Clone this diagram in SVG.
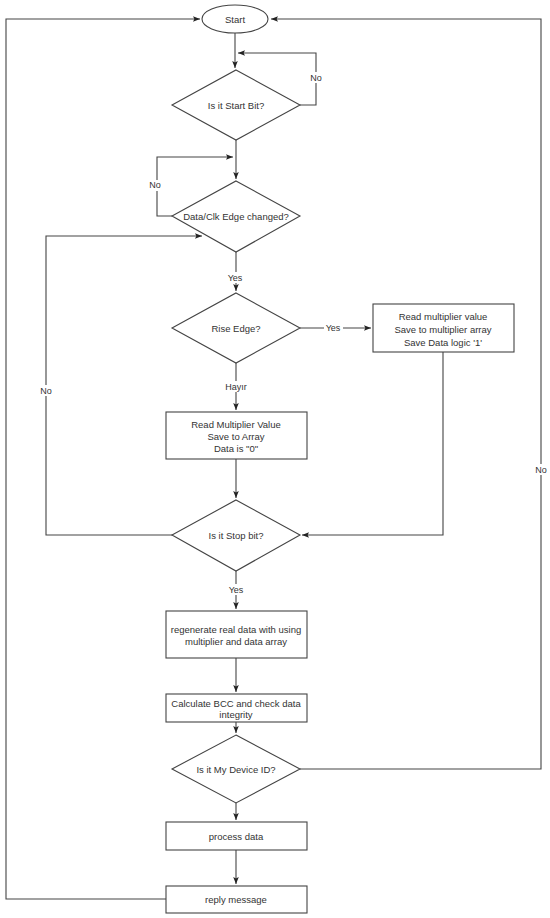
<svg xmlns="http://www.w3.org/2000/svg" width="550" height="918" viewBox="0 0 550 918">
<defs>
<marker id="arr" viewBox="0 0 10 10" refX="10" refY="5" markerWidth="7" markerHeight="7" orient="auto" markerUnits="userSpaceOnUse">
<path d="M0,1 L10,5 L0,9 L2,5 Z" fill="#222"/>
</marker>
</defs>
<style>
.shape{fill:#fff;stroke:#444;stroke-width:1.1}
.edge{fill:none;stroke:#444;stroke-width:1.1}
text{font-family:"Liberation Sans",Arial,sans-serif;font-size:9.5px;fill:#333;text-anchor:middle;dominant-baseline:central}
.lbl{font-size:9px}
.lblbg{fill:#fff}
</style>
<rect width="550" height="918" fill="#fff"/>
<g id="connectors">
<path class="edge" d="M235,33 V68" marker-end="url(#arr)"/>
<path class="edge" d="M300,105 H316 V53 H238" marker-end="url(#arr)"/>
<path class="edge" d="M236,140 V179" marker-end="url(#arr)"/>
<path class="edge" d="M172,216 H157 V157 H233" marker-end="url(#arr)"/>
<path class="edge" d="M236,252 V291" marker-end="url(#arr)"/>
<path class="edge" d="M300,328 H371" marker-end="url(#arr)"/>
<path class="edge" d="M236,363 V410" marker-end="url(#arr)"/>
<path class="edge" d="M236,459 V498" marker-end="url(#arr)"/>
<path class="edge" d="M443,352 V535 H302" marker-end="url(#arr)"/>
<path class="edge" d="M173,535 H46 V236 H202" marker-end="url(#arr)"/>
<path class="edge" d="M236,571 V609" marker-end="url(#arr)"/>
<path class="edge" d="M236,658 V692" marker-end="url(#arr)"/>
<path class="edge" d="M236,722 V733" marker-end="url(#arr)"/>
<path class="edge" d="M300,769 H541 V19 H271" marker-end="url(#arr)"/>
<path class="edge" d="M236,803 V820" marker-end="url(#arr)"/>
<path class="edge" d="M236,850 V884" marker-end="url(#arr)"/>
<path class="edge" d="M166,899 H6 V19 H200" marker-end="url(#arr)"/>
<rect class="lblbg" x="309" y="72" width="14" height="11"/>
<text class="lbl" x="316" y="78">No</text>
<rect class="lblbg" x="148" y="180" width="16" height="11"/>
<text class="lbl" x="155" y="185">No</text>
<rect class="lblbg" x="226" y="272" width="19" height="11"/>
<text class="lbl" x="235" y="278">Yes</text>
<rect class="lblbg" x="324" y="322" width="19" height="11"/>
<text class="lbl" x="333" y="328">Yes</text>
<rect class="lblbg" x="224" y="381" width="24" height="11"/>
<text class="lbl" x="236" y="387">Hayır</text>
<rect class="lblbg" x="39" y="385" width="15" height="11"/>
<text class="lbl" x="46" y="391">No</text>
<rect class="lblbg" x="227" y="584" width="19" height="11"/>
<text class="lbl" x="236" y="590">Yes</text>
<rect class="lblbg" x="534" y="464" width="15" height="11"/>
<text class="lbl" x="541" y="470">No</text>
</g>
<g id="start">
<ellipse class="shape" cx="235" cy="19" rx="33" ry="14"/>
<text x="235" y="19">Start</text>
</g>
<g id="startbit">
<polygon class="shape" points="236,70 300,105 236,140 172,105"/>
<text x="236" y="105">Is it Start Bit?</text>
</g>
<g id="edgechanged">
<polygon class="shape" points="236,181 300,216 236,252 172,216"/>
<text x="236" y="216">Data/Clk Edge changed?</text>
</g>
<g id="riseedge">
<polygon class="shape" points="236,293 300,328 236,363 172,328"/>
<text x="236" y="328">Rise Edge?</text>
</g>
<g id="readvalue1">
<rect class="shape" x="373" y="304" width="141" height="48"/>
<text x="443" y="316">Read multiplier value</text>
<text x="443" y="329">Save to multiplier array</text>
<text x="443" y="342">Save Data logic '1'</text>
</g>
<g id="readvalue0">
<rect class="shape" x="166" y="412" width="141" height="47"/>
<text x="236" y="424">Read Multiplier Value</text>
<text x="236" y="436">Save to Array</text>
<text x="236" y="448">Data is "0"</text>
</g>
<g id="stopbit">
<polygon class="shape" points="236,500 300,535 236,571 172,535"/>
<text x="236" y="535">Is it Stop bit?</text>
</g>
<g id="regenerate">
<rect class="shape" x="166" y="611" width="141" height="47"/>
<text x="236" y="629">regenerate real data with using</text>
<text x="236" y="641">multiplier and data array</text>
</g>
<g id="bcc">
<rect class="shape" x="166" y="694" width="141" height="28"/>
<text x="236" y="703">Calculate BCC and check data</text>
<text x="236" y="714">integrity</text>
</g>
<g id="deviceid">
<polygon class="shape" points="236,735 300,769 236,803 172,769"/>
<text x="236" y="769">Is it My Device ID?</text>
</g>
<g id="process">
<rect class="shape" x="166" y="822" width="141" height="28"/>
<text x="236" y="836">process data</text>
</g>
<g id="reply">
<rect class="shape" x="166" y="886" width="141" height="27"/>
<text x="236" y="899">reply message</text>
</g>
</svg>
